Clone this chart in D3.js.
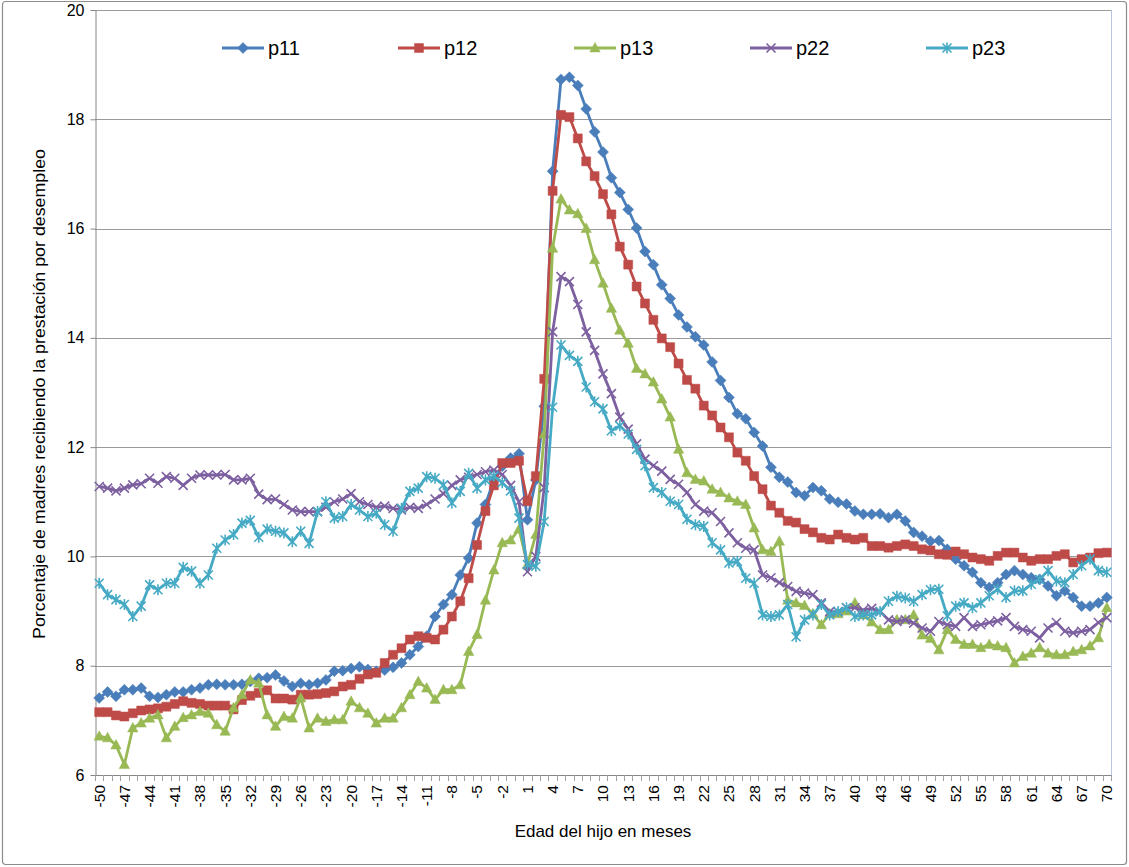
<!DOCTYPE html>
<html lang="es">
<head>
<meta charset="UTF-8">
<title>Prestación por desempleo</title>
<script src="https://cdn.jsdelivr.net/npm/d3@7"></script>
<style>
	*{
		margin: 0px;
		box-sizing: border-box;
	}
	html,body{
		width: 1129px;
		height: 867px;
		overflow: hidden;
		background: #fff;
	}
	text{
		font-family: "Liberation Sans", Arial, sans-serif;
		fill: #000;
	}
</style>
</head>
<body>
<svg id="svg" width="1129" height="867"></svg>
<script>
	// categories: child's age in months
	var months = d3.range(-50, 71);
	var yTicks = [6, 8, 10, 12, 14, 16, 18, 20];

	// series values, months -50 .. 70
	var p11 = [
		7.41, 7.52, 7.44, 7.56, 7.56, 7.59, 7.44, 7.42, 7.47, 7.52,
		7.52, 7.56, 7.59, 7.65, 7.66, 7.65, 7.65, 7.66, 7.71, 7.77,
		7.78, 7.83, 7.72, 7.62, 7.68, 7.65, 7.68, 7.74, 7.9, 7.91,
		7.95, 7.98, 7.93, 7.9, 7.92, 7.97, 8.05, 8.2, 8.35, 8.54,
		8.9, 9.12, 9.3, 9.66, 9.97, 10.61, 10.95, 11.4, 11.65, 11.8,
		11.88,
		10.67, 11.4, 12.75, 17.05, 18.73, 18.77, 18.62, 18.19, 17.77, 17.4,
		16.93, 16.66, 16.35, 16.01, 15.58, 15.34, 14.97, 14.72, 14.42, 14.2,
		14.02, 13.87, 13.56, 13.22, 12.91, 12.61, 12.52, 12.27, 12.02, 11.63,
		11.45, 11.36, 11.17, 11.11, 11.26, 11.2, 11.05, 10.99, 10.96, 10.83,
		10.77, 10.77, 10.78, 10.71, 10.77, 10.65, 10.44, 10.37, 10.28, 10.29,
		10.13, 9.95, 9.83, 9.71, 9.52, 9.43, 9.52, 9.67, 9.74, 9.67,
		9.61, 9.58, 9.46, 9.28, 9.37, 9.25, 9.09, 9.09, 9.15, 9.25
	];
	var p12 = [
		7.15, 7.15, 7.09, 7.07, 7.13, 7.18, 7.2, 7.22, 7.25, 7.3,
		7.35, 7.32, 7.3, 7.27, 7.27, 7.27, 7.2, 7.37, 7.45, 7.5,
		7.55, 7.4, 7.4, 7.38, 7.47, 7.47, 7.48, 7.5, 7.53, 7.62,
		7.65, 7.76, 7.84, 7.87, 8.05, 8.2, 8.32, 8.48, 8.54, 8.51,
		8.48, 8.66, 8.9, 9.18, 9.6, 10.21, 10.83, 11.3, 11.71, 11.71,
		11.75,
		11.01, 11.47, 13.25, 16.69, 18.08, 18.04, 17.65, 17.23, 16.96, 16.63,
		16.26, 15.67, 15.34, 14.94, 14.63, 14.33, 13.99, 13.83, 13.53, 13.23,
		13.07, 12.76, 12.58, 12.36, 12.18, 11.9, 11.75, 11.47, 11.23, 10.93,
		10.8, 10.65, 10.62, 10.5, 10.44, 10.34, 10.31, 10.4, 10.34, 10.31,
		10.34, 10.19, 10.19, 10.16, 10.19, 10.22, 10.19, 10.13, 10.11, 10.04,
		10.03, 10.09, 10.04, 9.98, 9.95, 9.92, 10.01, 10.07, 10.07, 9.98,
		9.92, 9.95, 9.95, 10.01, 10.04, 9.89, 9.95, 9.98, 10.06, 10.07
	];
	var p13 = [
		6.71, 6.68, 6.55, 6.19, 6.86, 6.95, 7.04, 7.1, 6.68, 6.89,
		7.05, 7.1, 7.16, 7.13, 6.92, 6.8, 7.23, 7.47, 7.74, 7.68,
		7.1, 6.89, 7.07, 7.04, 7.41, 6.86, 7.04, 6.98, 7.01, 7.01,
		7.35, 7.23, 7.13, 6.95, 7.04, 7.04, 7.23, 7.47, 7.71, 7.59,
		7.38, 7.56, 7.56, 7.65, 8.26, 8.57, 9.2, 9.75, 10.25, 10.3,
		10.5,
		9.85, 10.4, 12.24, 15.64, 16.54, 16.34, 16.27, 16.0, 15.43, 15.0,
		14.54, 14.14, 13.9, 13.44, 13.34, 13.19, 12.88, 12.55, 11.96, 11.53,
		11.41, 11.38, 11.23, 11.17, 11.07, 11.01, 10.95, 10.52, 10.12, 10.09,
		10.28, 9.2, 9.15, 9.1, 8.95, 8.75, 8.95, 8.95, 9.0, 9.15,
		8.93, 8.8, 8.66, 8.66, 8.84, 8.84, 8.93, 8.56, 8.5, 8.29,
		8.66, 8.48, 8.39, 8.39, 8.33, 8.39, 8.36, 8.33, 8.05, 8.17,
		8.23, 8.33, 8.23, 8.2, 8.2, 8.26, 8.29, 8.36, 8.51, 9.06
	];
	var p22 = [
		11.28, 11.25, 11.2, 11.25, 11.31, 11.33, 11.43, 11.34, 11.46, 11.43,
		11.3, 11.43, 11.49, 11.49, 11.49, 11.5, 11.4, 11.4, 11.43, 11.14,
		11.04, 11.05, 10.95, 10.85, 10.82, 10.82, 10.82, 10.9, 11.0, 11.05,
		11.15, 11.0, 10.95, 10.9, 10.92, 10.88, 10.85, 10.9, 10.88, 10.95,
		11.05, 11.15, 11.3, 11.4, 11.45, 11.5, 11.55, 11.58, 11.5, 11.3,
		11.0,
		9.72, 10.0, 11.26, 14.11, 15.12, 15.03, 14.61, 14.11, 13.77, 13.34,
		12.98, 12.55, 12.33, 12.06, 11.78, 11.66, 11.56, 11.41, 11.32, 11.17,
		10.95, 10.83, 10.8, 10.64, 10.43, 10.25, 10.15, 10.12, 9.66, 9.61,
		9.52, 9.45, 9.36, 9.33, 9.3, 9.15, 8.99, 8.99, 9.06, 9.06,
		9.02, 9.05, 8.99, 8.84, 8.81, 8.84, 8.78, 8.69, 8.63, 8.81,
		8.75, 8.72, 8.88, 8.72, 8.75, 8.79, 8.82, 8.88, 8.72, 8.66,
		8.63, 8.51, 8.69, 8.79, 8.63, 8.6, 8.63, 8.66, 8.79, 8.88
	];
	var p23 = [
		9.51, 9.3, 9.21, 9.12, 8.9, 9.09, 9.48, 9.39, 9.51, 9.51,
		9.8, 9.73, 9.51, 9.66, 10.15, 10.3, 10.4, 10.61, 10.66, 10.35,
		10.5, 10.46, 10.43, 10.27, 10.46, 10.24, 10.82, 11.0, 10.7, 10.73,
		10.95, 10.85, 10.73, 10.79, 10.58, 10.46, 10.88, 11.19, 11.25, 11.46,
		11.43, 11.31, 10.98, 11.19, 11.52, 11.25, 11.4, 11.47, 11.35, 11.2,
		10.7,
		9.85, 9.82, 10.64, 12.73, 13.87, 13.68, 13.57, 13.1, 12.83, 12.7,
		12.3, 12.39, 12.24, 11.96, 11.66, 11.26, 11.17, 11.01, 10.95, 10.68,
		10.58, 10.55, 10.25, 10.12, 9.88, 9.91, 9.6, 9.51, 8.93, 8.9,
		8.93, 9.12, 8.53, 8.84, 8.93, 9.12, 8.93, 8.99, 9.06, 8.9,
		8.93, 8.93, 8.99, 9.18, 9.27, 9.24, 9.18, 9.3, 9.39, 9.4,
		8.91, 9.09, 9.15, 9.06, 9.15, 9.28, 9.4, 9.25, 9.37, 9.37,
		9.49, 9.58, 9.74, 9.55, 9.52, 9.67, 9.83, 9.95, 9.74, 9.71
	];

	var seriesNames = ["p11", "p12", "p13", "p22", "p23"];
	var seriesValues = [p11, p12, p13, p22, p23];
	var colors = ["#4a7ebb", "#be4b48", "#98b954", "#7d60a0", "#46aac5"];
	var markers = ["diamond", "square", "triangle", "x", "star"];

	var svg = d3.select("#svg"),
		margin = {left: 95, top: 10, right: 18, bottom: 92},
		w = 1129, h = 867,
		x0 = margin.left, x1 = w - margin.right,
		y0 = h - margin.bottom, y1 = margin.top;

	var x = d3.scaleBand().domain(months).range([x0, x1]).padding(0);
	var y = d3.scaleLinear().domain([6, 20]).range([y0, y1]);
	var cx = function(m) { return x(m) + x.bandwidth() / 2; };

	// outer frame
	svg.append("rect")
		.attr("x", 2.5).attr("y", 1.5)
		.attr("width", w - 5).attr("height", h - 4)
		.attr("rx", 3)
		.attr("fill", "#fff")
		.attr("stroke", "#8c8c8c")
		.attr("stroke-width", 1.2);

	// gridlines
	svg.append("g")
		.selectAll("line")
		.data(yTicks.slice(1))
		.enter().append("line")
		.attr("x1", x0).attr("x2", x1)
		.attr("y1", function(d) { return Math.round(y(d)) + 0.5; })
		.attr("y2", function(d) { return Math.round(y(d)) + 0.5; })
		.attr("stroke", "#9a9a9a")
		.attr("stroke-width", 1);

	// plot area right edge
	svg.append("line")
		.attr("x1", x1 + 0.5).attr("x2", x1 + 0.5)
		.attr("y1", y1).attr("y2", y0)
		.attr("stroke", "#b8c6de");

	// y axis
	var yAxis = svg.append("g")
		.attr("transform", "translate(" + (x0 + 0.5) + ",0)")
		.call(d3.axisLeft(y).tickValues(yTicks).tickSize(5).tickPadding(6).tickSizeOuter(0));
	yAxis.select(".domain").attr("stroke", "#868686");
	yAxis.selectAll(".tick line").attr("stroke", "#868686");
	yAxis.selectAll("text")
		.attr("font-family", "Liberation Sans, Arial, sans-serif")
		.attr("font-size", 16)
		.attr("fill", "#000");

	// x axis: a tick at every category boundary
	var bounds = months.map(function(m) { return x(m); }).concat([x1]);
	var gx = svg.append("g");
	gx.append("line")
		.attr("x1", x0).attr("x2", x1)
		.attr("y1", y0 + 0.5).attr("y2", y0 + 0.5)
		.attr("stroke", "#868686");
	gx.selectAll("line.tk")
		.data(bounds)
		.enter().append("line")
		.attr("class", "tk")
		.attr("x1", function(d) { return Math.round(d) + 0.5; })
		.attr("x2", function(d) { return Math.round(d) + 0.5; })
		.attr("y1", y0).attr("y2", y0 + 6)
		.attr("stroke", "#a0a0a0");
	gx.selectAll("text")
		.data(months.filter(function(m) { return (m + 50) % 3 === 0; }))
		.enter().append("text")
		.attr("transform", function(m) { return "translate(" + cx(m) + "," + (y0 + 10) + ") rotate(-90)"; })
		.attr("text-anchor", "end")
		.attr("dy", "0.35em")
		.attr("font-size", 15.5)
		.text(function(m) { return m; });

	// axis titles
	svg.append("text")
		.attr("x", 603).attr("y", 837)
		.attr("text-anchor", "middle")
		.attr("font-size", 17)
		.text("Edad del hijo en meses");
	svg.append("text")
		.attr("transform", "translate(45,394) rotate(-90)")
		.attr("text-anchor", "middle")
		.attr("font-size", 17)
		.attr("textLength", 490)
		.attr("lengthAdjust", "spacingAndGlyphs")
		.text("Porcentaje de madres recibiendo la prestación por desempleo");

	// marker shapes
	function markerPath(type) {
		if (type == "diamond") return "M0,-5.5L5.5,0L0,5.5L-5.5,0Z";
		if (type == "square") return "M-4.5,-4.5H4.5V4.5H-4.5Z";
		if (type == "triangle") return "M0,-5.5L5.2,4L-5.2,4Z";
		if (type == "x") return "M-4.5,-4.5L4.5,4.5M-4.5,4.5L4.5,-4.5";
		return "M-4.5,-4.5L4.5,4.5M-4.5,4.5L4.5,-4.5M0,-5.5L0,5.5";
	}
	function drawMarker(sel, i) {
		var filled = markers[i] != "x" && markers[i] != "star";
		sel.attr("d", markerPath(markers[i]))
			.attr("fill", filled ? colors[i] : "none")
			.attr("stroke", colors[i])
			.attr("stroke-width", filled ? 0.5 : 1.6);
	}

	var line = d3.line()
		.x(function(d, j) { return cx(months[j]); })
		.y(function(d) { return y(d); });

	var gSeries = svg.append("g");
	seriesValues.forEach(function(vals, i) {
		var g = gSeries.append("g");
		g.append("path")
			.attr("d", line(vals))
			.attr("fill", "none")
			.attr("stroke", colors[i])
			.attr("stroke-width", 2.8)
			.attr("stroke-linejoin", "round");
		g.selectAll("path.mk")
			.data(vals)
			.enter().append("path")
			.attr("class", "mk")
			.attr("transform", function(d, j) { return "translate(" + cx(months[j]) + "," + y(d) + ")"; })
			.call(drawMarker, i);
	});

	// legend
	var legend = svg.append("g").attr("transform", "translate(222,48)");
	seriesNames.forEach(function(name, i) {
		var g = legend.append("g").attr("transform", "translate(" + (i * 176) + ",0)");
		g.append("line")
			.attr("x1", 0).attr("x2", 42)
			.attr("stroke", colors[i])
			.attr("stroke-width", 2.8);
		g.append("path")
			.attr("transform", "translate(21,0)")
			.call(drawMarker, i);
		g.append("text")
			.attr("x", 46).attr("dy", "0.35em")
			.attr("font-size", 20)
			.text(name);
	});
</script>
</body>
</html>
